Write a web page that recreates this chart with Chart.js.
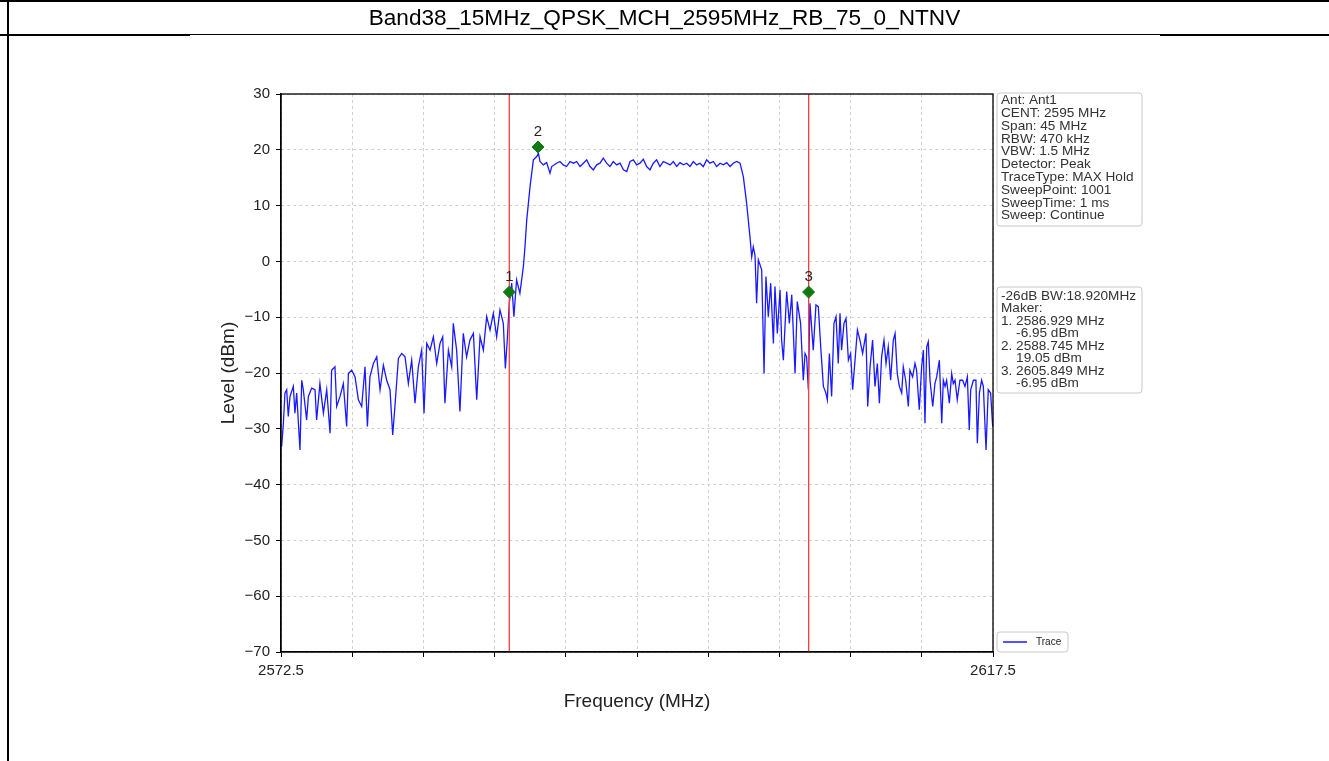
<!DOCTYPE html>
<html>
<head>
<meta charset="utf-8">
<script src="https://cdn.jsdelivr.net/npm/chart.js@4/dist/chart.umd.min.js"></script>
<style>
  body { margin: 0; background: #fff; font-family: "Liberation Sans", Arial, sans-serif; }
  #wrap { position: relative; width: 1329px; height: 761px; overflow: hidden; }
  #c { position: absolute; left: 0; top: 0; }
  #title { position: absolute; left: 0; top: 2px; width: 1329px; height: 32px; line-height: 32px;
           text-align: center; font-size: 22.6px; color: #000; }
  .ln { position: absolute; background: #000; }
</style>
</head>
<body>
<div id="wrap">
  <canvas id="c" width="1329" height="761"></canvas>
  <div id="title">Band38_15MHz_QPSK_MCH_2595MHz_RB_75_0_NTNV</div>
  <div class="ln" style="left:0;top:0;width:1329px;height:2px"></div>
  <div class="ln" style="left:0;top:34px;width:1329px;height:1px"></div>
  <div class="ln" style="left:0;top:34px;width:190px;height:2px"></div>
  <div class="ln" style="left:1160px;top:34px;width:169px;height:2px"></div>
  <div class="ln" style="left:7px;top:0;width:2px;height:761px"></div>
</div>
<script>
// trace (MHz / dBm)
const leftFreq = [2572.54, 2572.65, 2572.75, 2572.86, 2572.96, 2573.07, 2573.28, 2573.38, 2573.49, 2573.70,
  2573.81, 2573.91, 2574.12, 2574.23, 2574.44, 2574.65, 2574.75, 2574.96, 2575.18, 2575.39,
  2575.60, 2575.70, 2575.91, 2576.02, 2576.23, 2576.44, 2576.65, 2576.76, 2576.97, 2577.18,
  2577.39, 2577.60, 2577.81, 2577.96, 2578.12, 2578.34, 2578.55, 2578.76, 2578.97, 2579.18,
  2579.39, 2579.56, 2579.70, 2579.92, 2580.13, 2580.34, 2580.55, 2580.76, 2580.97, 2581.18,
  2581.39, 2581.54, 2581.71, 2581.92, 2582.13, 2582.34, 2582.55, 2582.72, 2582.86, 2583.08,
  2583.29, 2583.39, 2583.60, 2583.81, 2584.02, 2584.23, 2584.44, 2584.66, 2584.87, 2585.08,
  2585.29, 2585.50, 2585.71, 2585.92, 2586.13, 2586.34, 2586.55, 2586.68, 2586.80, 2586.93,
  2587.08, 2587.22, 2587.39, 2587.60, 2587.82]
const leftLevel = [-33.2, -29.0, -23.6, -23.0, -27.8, -24.2, -22.4, -27.2, -23.6, -33.8,
  -21.3, -23.0, -28.4, -24.2, -22.7, -23.0, -28.4, -21.9, -27.2, -23.0,
  -30.8, -19.5, -18.9, -26.0, -24.2, -21.9, -29.6, -20.1, -19.5, -20.7,
  -24.8, -26.0, -18.9, -29.6, -20.7, -18.3, -17.1, -23.0, -18.6, -21.3,
  -23.0, -31.1, -26.0, -17.4, -16.5, -17.1, -21.9, -17.7, -25.4, -18.9,
  -15.9, -27.2, -14.7, -15.9, -13.5, -18.3, -14.7, -13.5, -25.4, -15.9,
  -18.9, -11.1, -15.9, -26.9, -12.9, -17.1, -14.1, -12.9, -24.8, -13.5,
  -15.9, -9.9, -12.3, -9.3, -13.5, -8.7, -11.1, -19.2, -14.1, -7.5,
  -3.9, -9.9, -3.3, -5.7, -0.9]

const bandFreq = [2587.92, 2588.03, 2588.24, 2588.45, 2588.66, 2588.77, 2588.87, 2589.08, 2589.29, 2589.50, 2589.61,
  2589.92, 2590.13, 2590.34, 2590.55, 2590.77, 2590.98, 2591.19, 2591.40, 2591.61, 2591.82,
  2592.03, 2592.24, 2592.45, 2592.66, 2592.87, 2593.08, 2593.29, 2593.50, 2593.72, 2593.93,
  2594.14, 2594.35, 2594.56, 2594.77, 2594.98, 2595.19, 2595.40, 2595.61, 2595.82, 2596.03,
  2596.24, 2596.45, 2596.66, 2596.88, 2597.09, 2597.30, 2597.51, 2597.72, 2597.93, 2598.14,
  2598.35, 2598.56, 2598.77, 2598.98, 2599.19, 2599.40, 2599.61, 2599.83, 2600.03, 2600.25,
  2600.46, 2600.67, 2600.88, 2601.09, 2601.30, 2601.51,
  2601.72, 2601.93, 2602.14, 2602.25, 2602.35]
const bandLevel = [2.6, 7.4, 13.4, 18.2, 18.8, 19.4, 17.9, 17.3, 17.7, 15.8, 17.0,
  17.6, 17.9, 17.3, 17.0, 17.9, 17.6, 17.9, 17.0, 17.6, 18.2,
  17.0, 16.4, 17.3, 17.6, 18.5, 17.6, 17.0, 17.9, 17.3, 17.6,
  16.4, 16.1, 17.9, 18.2, 17.3, 17.6, 18.3, 17.0, 16.4, 17.6,
  18.2, 17.0, 17.9, 17.6, 17.3, 17.9, 17.0, 17.7, 17.3, 17.6,
  17.0, 17.9, 17.3, 17.6, 17.0, 18.2, 17.6, 17.9, 17.0, 17.6,
  17.3, 17.7, 17.0, 17.6, 17.9, 17.6,
  15.2, 10.4, 4.4, 0.8, 2.6]

const rightFreq = [2602.46, 2602.56, 2602.67, 2602.88, 2603.03, 2603.15, 2603.30, 2603.45, 2603.62, 2603.72,
  2603.87, 2604.04, 2604.14, 2604.25, 2604.46, 2604.63, 2604.78, 2604.99, 2605.13, 2605.34,
  2605.51, 2605.62, 2605.72, 2605.83, 2605.93, 2606.14, 2606.31, 2606.46, 2606.61, 2606.78,
  2606.94, 2607.03, 2607.16, 2607.30, 2607.45, 2607.58, 2607.72, 2607.83, 2607.93, 2608.08,
  2608.21, 2608.36, 2608.50, 2608.63, 2608.78, 2608.93, 2609.09, 2609.26, 2609.47, 2609.58,
  2609.73, 2609.89, 2610.04, 2610.19, 2610.32, 2610.46, 2610.61, 2610.74, 2610.88, 2611.03,
  2611.20, 2611.31, 2611.45, 2611.58, 2611.73, 2611.83, 2611.98, 2612.15, 2612.25, 2612.42,
  2612.57, 2612.67, 2612.84, 2612.99, 2613.10, 2613.20, 2613.31, 2613.41, 2613.52, 2613.69,
  2613.83, 2613.94, 2614.11, 2614.26, 2614.36, 2614.47, 2614.57, 2614.74, 2614.89, 2614.99,
  2615.10, 2615.24, 2615.41, 2615.58, 2615.73, 2615.88, 2616.00, 2616.09, 2616.26, 2616.42,
  2616.51, 2616.64, 2616.78, 2616.89, 2617.06, 2617.20, 2617.35, 2617.48]
const rightLevel = [1.1, -7.5, 0.3, -1.5, -20.1, -2.7, -9.9, -3.9, -14.7, -4.5,
  -12.9, -5.1, -14.1, -17.7, -5.4, -11.1, -6.0, -20.1, -7.2, -11.1,
  -21.3, -16.5, -17.1, -23.0, -7.5, -15.9, -7.8, -8.1, -15.3, -22.4,
  -23.6, -24.8, -16.5, -24.2, -11.1, -9.9, -18.3, -9.3, -15.9, -11.1,
  -10.2, -17.7, -16.5, -23.0, -17.7, -12.3, -14.1, -16.5, -12.9, -26.0,
  -18.9, -14.1, -22.4, -18.3, -25.4, -17.1, -14.1, -18.3, -15.3, -21.3,
  -14.1, -12.9, -20.1, -22.4, -23.6, -18.9, -21.3, -26.0, -19.5, -20.7,
  -18.3, -19.5, -26.6, -18.9, -15.9, -29.0, -15.3, -14.4, -21.3, -26.0,
  -21.9, -20.7, -17.7, -29.0, -21.3, -22.4, -21.3, -25.4, -20.1, -21.9,
  -21.3, -24.8, -21.3, -21.3, -22.4, -20.7, -30.2, -23.0, -21.3, -21.3,
  -32.6, -23.6, -21.3, -22.4, -33.8, -23.0, -23.6, -29.6]

// markers
const markerFreq = [2586.929, 2588.745, 2605.849]
const markerLevel = [-5.5, 20.5, -5.5]
const markerNames = ['1', '2', '3']
const redLines = [2586.929, 2605.849]

// axes
const xTicks = [2572.5, 2577, 2581.5, 2586, 2590.5, 2595, 2599.5, 2604, 2608.5, 2613, 2617.5]
const xTickLabels = ['2572.5', '', '', '', '', '', '', '', '', '', '2617.5']
const yTicks = [-70, -60, -50, -40, -30, -20, -10, 0, 10, 20, 30]
const yTickLabels = ['\u221270', '\u221260', '\u221250', '\u221240', '\u221230', '\u221220', '\u221210', '0', '10', '20', '30']

const infoLines = ['Ant: Ant1', 'CENT: 2595 MHz', 'Span: 45 MHz', 'RBW: 470 kHz', 'VBW: 1.5 MHz',
  'Detector: Peak', 'TraceType: MAX Hold', 'SweepPoint: 1001', 'SweepTime: 1 ms', 'Sweep: Continue']
const makerLines = ['-26dB BW:18.920MHz', 'Maker:', '1. 2586.929 MHz', '    -6.95 dBm',
  '2. 2588.745 MHz', '    19.05 dBm', '3. 2605.849 MHz', '    -6.95 dBm']

const FONT = '"Liberation Sans", Arial, sans-serif'

const traceFreq = leftFreq.concat(bandFreq, rightFreq)
const traceLevel = leftLevel.concat(bandLevel, rightLevel)
const tracePts = traceFreq.map((f, i) => ({x: f, y: traceLevel[i]}))

const boxDraw = (ctx, x, y, w, h) => {
  ctx.beginPath()
  ctx.roundRect(x, y, w, h, 3)
  ctx.fillStyle = '#fff'
  ctx.fill()
  ctx.strokeStyle = '#c8c8c8'
  ctx.lineWidth = 1
  ctx.stroke()
}

const extras = {
  id: 'extras',
  afterDatasetsDraw(chart) {
    const ctx = chart.ctx
    const a = chart.chartArea
    ctx.save()
    // frame top/right
    ctx.strokeStyle = '#000'
    ctx.lineWidth = 1.3
    ctx.strokeRect(a.left, a.top, a.right - a.left, a.bottom - a.top)
    // marker labels
    const meta = chart.getDatasetMeta(0)
    ctx.font = '15px ' + FONT
    ctx.fillStyle = '#222'
    ctx.textAlign = 'center'
    ctx.textBaseline = 'middle'
    meta.data.forEach((el, i) => ctx.fillText(markerNames[i], el.x, el.y - 15))
    // info boxes
    const bx = a.right + 4
    ctx.textAlign = 'left'
    boxDraw(ctx, bx, a.top - 1, 145, 133)
    ctx.font = '13.6px ' + FONT
    ctx.fillStyle = '#333'
    infoLines.forEach((t, i) => ctx.fillText(t, bx + 4, a.top + 6.5 + i * 12.8))
    boxDraw(ctx, bx, a.top + 193, 145, 106)
    ctx.fillStyle = '#333'
    makerLines.forEach((t, i) => ctx.fillText(t, bx + 4, a.top + 202 + i * 12.5))
    // legend
    boxDraw(ctx, bx, a.bottom - 20, 71, 20)
    ctx.strokeStyle = '#1a1aff'
    ctx.lineWidth = 1.5
    ctx.beginPath()
    ctx.moveTo(bx + 6, a.bottom - 10)
    ctx.lineTo(bx + 30, a.bottom - 10)
    ctx.stroke()
    ctx.font = '10px ' + FONT
    ctx.fillStyle = '#222'
    ctx.fillText('Trace', bx + 39, a.bottom - 10)
    ctx.restore()
  }
}

new Chart('c', {
  type: 'scatter',
  data: {
    datasets: [
      {
        label: 'Markers',
        data: markerFreq.map((f, i) => ({x: f, y: markerLevel[i]})),
        pointStyle: 'rectRot',
        pointRadius: 6,
        backgroundColor: '#0f7a0f',
        borderColor: '#0f7a0f',
        showLine: false
      },
      ...redLines.map(f => ({
        label: 'line',
        data: [{x: f, y: -70}, {x: f, y: 30}],
        showLine: true,
        borderColor: '#ff3b3b',
        borderWidth: 1.3,
        pointRadius: 0
      })),
      {
        label: 'Trace',
        data: tracePts,
        showLine: true,
        borderColor: '#1a1aff',
        borderWidth: 1.3,
        pointRadius: 0,
        tension: 0
      }
    ]
  },
  options: {
    responsive: false,
    animation: false,
    layout: {padding: {left: 213, top: 94, right: 336, bottom: 44}},
    plugins: {legend: {display: false}, tooltip: {enabled: false}},
    scales: {
      x: {
        type: 'linear',
        min: 2572.5,
        max: 2617.5,
        afterBuildTicks: (s) => { s.ticks = xTicks.map(v => ({value: v})) },
        afterFit: (s) => { s.height = 65 },
        ticks: {
          autoSkip: false, maxRotation: 0, padding: 5,
          color: '#222', font: {family: FONT, size: 15},
          callback: (v, i) => xTickLabels[i]
        },
        grid: {color: '#cfcfcf', lineWidth: 1, tickColor: '#000', tickLength: 5},
        border: {color: '#000', width: 1.3, dash: [3, 3]},
        title: {display: true, text: 'Frequency (MHz)', color: '#222', font: {family: FONT, size: 19}}
      },
      y: {
        min: -70,
        max: 30,
        afterBuildTicks: (s) => { s.ticks = yTicks.map(v => ({value: v})) },
        afterFit: (s) => { s.width = 68 },
        ticks: {
          padding: 6, color: '#222', font: {family: FONT, size: 15},
          callback: (v, i) => yTickLabels[i]
        },
        grid: {color: '#cfcfcf', lineWidth: 1, tickColor: '#000', tickLength: 5},
        border: {color: '#000', width: 1.3, dash: [3, 3]},
        title: {display: true, text: 'Level (dBm)', color: '#222', font: {family: FONT, size: 19}}
      }
    }
  },
  plugins: [extras]
})
</script>
</body>
</html>
